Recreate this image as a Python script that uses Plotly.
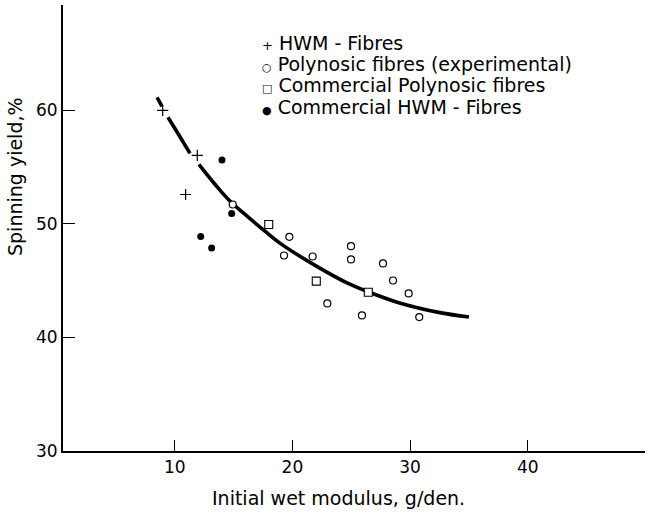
import plotly.graph_objects as go

# --- data ---
hwm_x = [8.98, 11.92, 10.93]
hwm_y = [59.99, 56.03, 52.58]

comm_hwm_x = [14.02, 14.84, 12.21, 13.14]
comm_hwm_y = [55.62, 50.91, 48.89, 47.88]

comm_poly_x = [17.99, 22.03, 26.45]
comm_poly_y = [49.94, 44.95, 43.98]

poly_x = [19.74, 19.29, 21.72, 22.97, 24.98, 24.98, 25.91, 27.70, 28.55, 29.88, 30.78, 14.93]
poly_y = [48.85, 47.21, 47.12, 42.99, 48.03, 46.86, 41.93, 46.51, 45.01, 43.87, 41.79, 51.70]

curve_x = [8.50, 8.92, None, 9.43, 10.37, 11.30, None, 12.06, 13.42, 14.69, 16.40,
           17.67, 18.94, 21.75, 24.64, 26.42, 28.89, 32.54, 35.0]
curve_y = [61.13, 60.34, None, 59.38, 57.79, 56.20, None, 55.23, 53.48, 52.00, 50.45,
           49.35, 48.30, 46.45, 44.80, 44.02, 43.10, 42.18, 41.80]

x_ticks = [10, 20, 30, 40]
y_ticks = [30, 40, 50, 60]

legend_labels = ["HWM - Fibres", "Polynosic fibres (experimental)",
                 "Commercial Polynosic fibres", "Commercial HWM - Fibres"]
legend_symbols = ["+", "○", "□", "●"]

x_title = "Initial wet modulus, g/den."
y_title = "Spinning yield,%"

FONT = "DejaVu Sans"

fig = go.Figure()

fig.add_trace(go.Scatter(x=curve_x, y=curve_y, mode="lines",
                         line=dict(color="black", width=3.6, shape="spline", smoothing=1.0),
                         connectgaps=False, hoverinfo="skip"))

fig.add_trace(go.Scatter(x=hwm_x, y=hwm_y, mode="markers",
                         marker=dict(symbol="cross-thin", size=8,
                                     line=dict(color="black", width=1.2))))
fig.add_trace(go.Scatter(x=comm_hwm_x, y=comm_hwm_y, mode="markers",
                         marker=dict(symbol="circle", size=7, color="black")))
fig.add_trace(go.Scatter(x=comm_poly_x, y=comm_poly_y, mode="markers",
                         marker=dict(symbol="square", size=8, color="white",
                                     line=dict(color="black", width=1.1))))
fig.add_trace(go.Scatter(x=poly_x, y=poly_y, mode="markers",
                         marker=dict(symbol="circle", size=7, color="white",
                                     line=dict(color="black", width=1.2))))

# legend as text
leg_y_px = [43, 64, 85, 107]
sym_sizes = [13, 11, 11, 11]
for lab, sym, py, ss in zip(legend_labels, legend_symbols, leg_y_px, sym_sizes):
    fig.add_annotation(
        xref="paper", yref="paper",
        x=(260 - 63) / 582, y=1 - (py - 5) / 446,
        xanchor="left", yanchor="middle", showarrow=False,
        text=f"<span style='font-size:{ss}px'>{sym}</span> {lab}",
        font=dict(family=FONT, size=19, color="black"),
    )

fig.add_annotation(xref="paper", yref="paper", x=(338 - 63) / 582, y=-(498 - 451) / 446,
                   xanchor="center", yanchor="middle", showarrow=False,
                   text=x_title, font=dict(family=FONT, size=19, color="black"))
fig.add_annotation(xref="paper", yref="paper", x=(15 - 63) / 582, y=1 - (177 - 5) / 446,
                   xanchor="center", yanchor="middle", showarrow=False, textangle=-90,
                   text=y_title, font=dict(family=FONT, size=19, color="black"))

fig.update_layout(
    width=647, height=512,
    margin=dict(l=63, r=2, t=5, b=61),
    paper_bgcolor="white", plot_bgcolor="white",
    showlegend=False,
    font=dict(family=FONT, size=17, color="black"),
    xaxis=dict(range=[0.51, 49.96], tickvals=x_ticks, ticks="inside", ticklen=11,
               tickwidth=1.3, tickcolor="black", showline=True, linecolor="black",
               linewidth=2, showgrid=False, zeroline=False, automargin=False,
               tickfont=dict(family=FONT, size=17, color="black")),
    yaxis=dict(range=[30, 69.26], tickvals=y_ticks, ticks="inside", ticklen=12,
               tickwidth=1.3, tickcolor="black", showline=True, linecolor="black",
               linewidth=2, showgrid=False, zeroline=False, automargin=False,
               tickfont=dict(family=FONT, size=17, color="black")),
)

fig.write_html("out.html", config={"displayModeBar": False},
               post_script="document.body.style.margin='0';document.body.style.overflow='hidden';")
